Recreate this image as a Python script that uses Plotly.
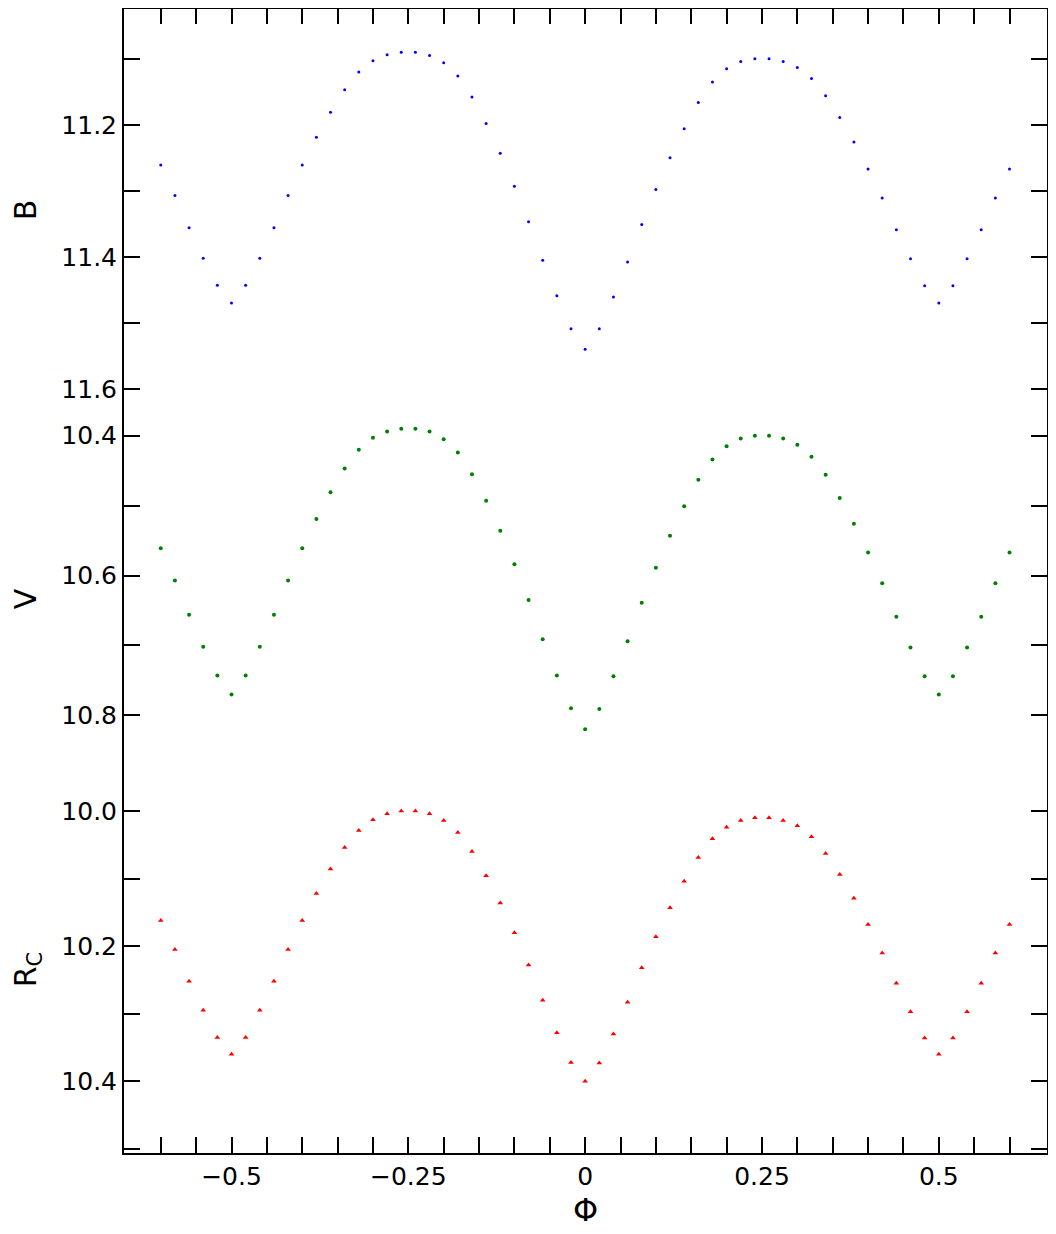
import plotly.graph_objects as go
from plotly.subplots import make_subplots

phase = [-0.60, -0.58, -0.56, -0.54, -0.52, -0.50, -0.48, -0.46, -0.44, -0.42,
         -0.40, -0.38, -0.36, -0.34, -0.32, -0.30, -0.28, -0.26, -0.24, -0.22,
         -0.20, -0.18, -0.16, -0.14, -0.12, -0.10, -0.08, -0.06, -0.04, -0.02,
         0.00, 0.02, 0.04, 0.06, 0.08, 0.10, 0.12, 0.14, 0.16, 0.18,
         0.20, 0.22, 0.24, 0.26, 0.28, 0.30, 0.32, 0.34, 0.36, 0.38,
         0.40, 0.42, 0.44, 0.46, 0.48, 0.50, 0.52, 0.54, 0.56, 0.58, 0.60]

mag_b = [11.261, 11.307, 11.356, 11.402, 11.443, 11.47, 11.443, 11.402, 11.356, 11.307,
         11.261, 11.219, 11.181, 11.147, 11.120, 11.103, 11.094, 11.09, 11.09, 11.095,
         11.106, 11.126, 11.158, 11.198, 11.243, 11.293, 11.347, 11.405, 11.459, 11.509,
         11.54, 11.509, 11.461, 11.408, 11.351, 11.298, 11.250, 11.206, 11.166, 11.135,
         11.115, 11.104, 11.10, 11.10, 11.104, 11.113, 11.130, 11.156, 11.189, 11.226,
         11.267, 11.311, 11.359, 11.403, 11.444, 11.47, 11.444, 11.403, 11.359, 11.311, 11.267]

mag_v = [10.561, 10.607, 10.656, 10.702, 10.743, 10.77, 10.743, 10.702, 10.656, 10.607,
         10.561, 10.519, 10.481, 10.447, 10.420, 10.403, 10.394, 10.39, 10.39, 10.394,
         10.405, 10.424, 10.455, 10.493, 10.536, 10.584, 10.635, 10.691, 10.743, 10.790,
         10.82, 10.791, 10.744, 10.694, 10.639, 10.589, 10.543, 10.501, 10.463, 10.434,
         10.415, 10.404, 10.40, 10.40, 10.404, 10.413, 10.430, 10.456, 10.489, 10.526,
         10.567, 10.611, 10.659, 10.703, 10.744, 10.77, 10.744, 10.703, 10.659, 10.611, 10.567]

mag_r = [10.162, 10.205, 10.252, 10.295, 10.335, 10.36, 10.335, 10.295, 10.252, 10.205,
         10.162, 10.122, 10.086, 10.054, 10.029, 10.013, 10.004, 10.00, 10.00, 10.004,
         10.014, 10.032, 10.060, 10.096, 10.136, 10.180, 10.228, 10.280, 10.328, 10.372,
         10.40, 10.373, 10.330, 10.283, 10.232, 10.186, 10.143, 10.104, 10.069, 10.041,
         10.024, 10.014, 10.01, 10.01, 10.014, 10.022, 10.038, 10.063, 10.094, 10.129,
         10.168, 10.210, 10.255, 10.297, 10.336, 10.36, 10.336, 10.297, 10.255, 10.210, 10.168]

x_range = [-0.652, 0.653]
b_range = [11.635, 11.023]
v_range = [10.901, 10.366]
r_range = [10.506, 9.963]
b_ticks = [11.1, 11.2, 11.3, 11.4, 11.5, 11.6]
v_ticks = [10.4, 10.5, 10.6, 10.7, 10.8, 10.9]
r_ticks = [10.0, 10.1, 10.2, 10.3, 10.4, 10.5]
x_ticks = [-0.6, -0.55, -0.5, -0.45, -0.4, -0.35, -0.3, -0.25, -0.2, -0.15, -0.1, -0.05,
           0, 0.05, 0.1, 0.15, 0.2, 0.25, 0.3, 0.35, 0.4, 0.45, 0.5, 0.55, 0.6]
x_labels = {-0.5: "\u22120.5", -0.25: "\u22120.25", 0: "0", 0.25: "0.25", 0.5: "0.5"}

fig = make_subplots(rows=3, cols=1, shared_xaxes=True, vertical_spacing=0,
                    row_heights=[405, 375, 368])

fig.add_trace(go.Scatter(x=phase, y=mag_b, mode="markers",
                         marker=dict(color="blue", size=3)), row=1, col=1)
fig.add_trace(go.Scatter(x=phase, y=mag_v, mode="markers",
                         marker=dict(color="green", size=4)), row=2, col=1)
fig.add_trace(go.Scatter(x=phase, y=mag_r, mode="markers",
                         marker=dict(color="red", size=5, symbol="triangle-up")), row=3, col=1)

yax = dict(ticks="inside", ticklen=16, tickwidth=2, tickcolor="black",
           showline=True, linecolor="black", linewidth=2, automargin=False,
           mirror="allticks", showgrid=False, zeroline=False,
           tickfont=dict(size=25), title_font=dict(size=30), title_standoff=18)
fig.update_yaxes(**yax)
fig.update_yaxes(range=b_range, tickvals=b_ticks,
                 ticktext=["", "11.2", "", "11.4", "", "11.6"],
                 title_text="B", row=1, col=1)
fig.update_yaxes(range=v_range, tickvals=v_ticks,
                 ticktext=["10.4", "", "10.6", "", "10.8", ""],
                 title_text="V", row=2, col=1)
fig.update_yaxes(range=r_range, tickvals=r_ticks,
                 ticktext=["10.0", "", "10.2", "", "10.4", ""],
                 title_text="R<sub>C</sub>", row=3, col=1)

# overlay axes on the right, so their mirrored ticks appear on the left side
tick_only = dict(side="right", ticks="inside", ticklen=16, tickwidth=2, tickcolor="black",
                 mirror="allticks", showline=False, showticklabels=False,
                 showgrid=False, zeroline=False, automargin=False)
fig.update_layout(
    yaxis4=dict(overlaying="y", anchor="x", range=b_range, tickvals=b_ticks, **tick_only),
    yaxis5=dict(overlaying="y2", anchor="x", range=v_range, tickvals=v_ticks, **tick_only),
    yaxis6=dict(overlaying="y3", anchor="x", range=r_range, tickvals=r_ticks, **tick_only),
    yaxis7=dict(domain=[0, 1], range=[0, 1], visible=False, anchor="x4"),
    xaxis4=dict(side="top", anchor="y7", range=x_range, tickvals=x_ticks,
                ticks="inside", ticklen=16, tickwidth=2, tickcolor="black",
                mirror="allticks", showline=False, showticklabels=False,
                showgrid=False, zeroline=False, automargin=False),
)
fig.add_trace(go.Scatter(x=[], y=[], yaxis="y4", xaxis="x3"))
fig.add_trace(go.Scatter(x=[], y=[], yaxis="y5", xaxis="x3"))
fig.add_trace(go.Scatter(x=[], y=[], yaxis="y6", xaxis="x3"))
fig.add_trace(go.Scatter(x=[], y=[], yaxis="y7", xaxis="x4"))

fig.update_xaxes(range=x_range, showgrid=False, zeroline=False, automargin=False)
fig.update_xaxes(tickvals=x_ticks, ticktext=[x_labels.get(t, "") for t in x_ticks],
                 ticks="inside", ticklen=16, tickwidth=2, tickcolor="black",
                 showline=True, linecolor="black", linewidth=2,
                 tickfont=dict(size=25), title_text="\u03a6", title_font=dict(size=32),
                 title_standoff=6, row=3, col=1)

fig.add_shape(type="line", xref="paper", yref="paper", x0=0, x1=1, y0=1, y1=1,
              line=dict(color="black", width=2))

fig.update_layout(width=1056, height=1234, showlegend=False,
                  margin=dict(l=116, r=17, t=0, b=89),
                  plot_bgcolor="rgba(0,0,0,0)", paper_bgcolor="white",
                  font=dict(family="DejaVu Sans", color="black"))

fig.write_html("out.html")
